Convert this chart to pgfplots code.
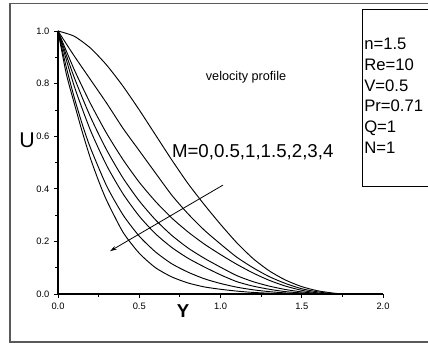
\documentclass[border=0pt]{standalone}
\usepackage{fontspec}
\setmainfont{Liberation Sans}
\usepackage{pgfplots}
\pgfplotsset{compat=1.18}
\usetikzlibrary{arrows.meta}
\begin{document}
\begin{tikzpicture}
\path[use as bounding box] (-43.5pt,-36.75pt) rectangle (277.5pt,220.5pt);
\begin{axis}[
  at={(0,0)}, anchor=south west,
  width=243.75pt, height=197.25pt, scale only axis,
  xmin=0, xmax=2, ymin=0, ymax=1,
  axis x line=bottom, axis y line=left,
  axis line style={-, line width=0.8pt},
  clip=false,
  xtick={0,0.5,1,1.5,2}, ytick={0,0.2,0.4,0.6,0.8,1.0},
  minor x tick num=1, minor y tick num=1,
  tick align=outside,
  major tick length=3pt, minor tick length=2pt,
  tick style={line width=0.6pt, black},
  /pgf/number format/assume math mode=true,
  ticklabel style={font=\fontsize{7}{8}\selectfont},
  xticklabel style={/pgf/number format/.cd, fixed, fixed zerofill, precision=1},
  yticklabel style={/pgf/number format/.cd, fixed, fixed zerofill, precision=1},
  curve/.style={black, solid, line width=0.7pt, no marks, smooth, tension=0.4},
]
% M = 0
\addplot[curve] coordinates {(0,1) (0.1,0.98) (0.2,0.935) (0.3,0.87) (0.4,0.79) (0.5,0.70) (0.6,0.605) (0.7,0.51) (0.8,0.42) (0.9,0.34) (1.0,0.265) (1.1,0.195) (1.2,0.135) (1.3,0.088) (1.4,0.053) (1.5,0.028) (1.6,0.012) (1.7,0.003) (1.75,0)};
% M = 0.5
\addplot[curve] coordinates {(0,1) (0.1,0.905) (0.2,0.815) (0.3,0.725) (0.4,0.63) (0.5,0.545) (0.6,0.46) (0.7,0.376) (0.8,0.305) (0.9,0.243) (1.0,0.19) (1.1,0.14) (1.2,0.10) (1.3,0.066) (1.4,0.04) (1.5,0.02) (1.6,0.008) (1.7,0)};
% M = 1
\addplot[curve] coordinates {(0,1) (0.1,0.853) (0.2,0.724) (0.3,0.61) (0.4,0.511) (0.5,0.425) (0.6,0.352) (0.7,0.289) (0.8,0.236) (0.9,0.19) (1.0,0.15) (1.1,0.113) (1.2,0.08) (1.3,0.052) (1.4,0.03) (1.5,0.014) (1.6,0.004) (1.7,0)};
% M = 1.5
\addplot[curve] coordinates {(0,1) (0.1,0.823) (0.2,0.673) (0.3,0.547) (0.4,0.441) (0.5,0.354) (0.6,0.282) (0.7,0.223) (0.8,0.175) (0.9,0.136) (1.0,0.102) (1.1,0.07) (1.2,0.047) (1.3,0.03) (1.4,0.017) (1.5,0.008) (1.6,0.002) (1.7,0)};
% M = 2
\addplot[curve] coordinates {(0,1) (0.1,0.79) (0.2,0.622) (0.3,0.488) (0.4,0.381) (0.5,0.296) (0.6,0.229) (0.7,0.177) (0.8,0.136) (0.9,0.103) (1.0,0.073) (1.1,0.047) (1.2,0.03) (1.3,0.018) (1.4,0.009) (1.5,0.004) (1.6,0)};
% M = 3
\addplot[curve] coordinates {(0,1) (0.05,0.865) (0.1,0.747) (0.15,0.644) (0.2,0.555) (0.3,0.41) (0.4,0.301) (0.5,0.22) (0.6,0.16) (0.7,0.115) (0.8,0.083) (0.9,0.058) (1.0,0.04) (1.1,0.026) (1.2,0.016) (1.3,0.009) (1.4,0.004) (1.5,0.001) (1.6,0)};
% M = 4
\addplot[curve] coordinates {(0,1) (0.05,0.84) (0.1,0.725) (0.15,0.615) (0.2,0.515) (0.25,0.43) (0.3,0.355) (0.4,0.235) (0.5,0.155) (0.6,0.10) (0.7,0.065) (0.8,0.042) (0.9,0.027) (1.0,0.018) (1.1,0.011) (1.2,0.006) (1.3,0.003) (1.4,0.001) (1.5,0)};
% annotations
\draw[line width=0.6pt, -{Stealth[length=5pt, width=3pt]}] (axis cs:1.015,0.414) -- (axis cs:0.32,0.163);
\node[font=\fontsize{9.5}{11}\selectfont, inner sep=0pt] at (axis cs:1.157,0.825) {velocity profile};
\node[anchor=west, font=\fontsize{14}{16}\selectfont, inner sep=0pt] at (axis cs:0.70,0.54) {M=0,0.5,1,1.5,2,3,4};
\node[font=\fontsize{16}{18}\selectfont, inner sep=0pt] at (axis cs:-0.19,0.585) {U};
\node[font=\bfseries\fontsize{14}{16}\selectfont, inner sep=0pt] at (axis cs:0.77,-0.065) {Y};
% parameter box
\draw[line width=0.7pt] (axis cs:2.30,1.08) -- (axis cs:1.871,1.08) -- (axis cs:1.871,0.4106) -- (axis cs:2.30,0.4106);
\node[anchor=base west, font=\fontsize{12.5}{14}\selectfont, inner sep=0pt] at (axis cs:1.883,0.9278) {n=1.5};
\node[anchor=base west, font=\fontsize{12.5}{14}\selectfont, inner sep=0pt] at (axis cs:1.883,0.8494) {Re=10};
\node[anchor=base west, font=\fontsize{12.5}{14}\selectfont, inner sep=0pt] at (axis cs:1.883,0.7711) {V=0.5};
\node[anchor=base west, font=\fontsize{12.5}{14}\selectfont, inner sep=0pt] at (axis cs:1.883,0.6928) {Pr=0.71};
\node[anchor=base west, font=\fontsize{12.5}{14}\selectfont, inner sep=0pt] at (axis cs:1.883,0.6144) {Q=1};
\node[anchor=base west, font=\fontsize{12.5}{14}\selectfont, inner sep=0pt] at (axis cs:1.883,0.5361) {N=1};
% outer frame
\draw[line width=0.9pt, gray!70!black] (axis cs:2.277,1.106) -- (axis cs:-0.295,1.106) -- (axis cs:-0.295,-0.1825) -- (axis cs:2.277,-0.1825);
\end{axis}
\end{tikzpicture}
\end{document}
